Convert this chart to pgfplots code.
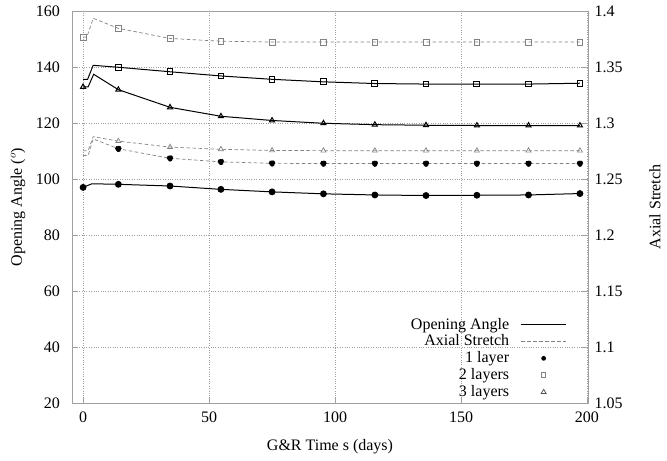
\documentclass[border=0pt]{standalone}
\usepackage{fontspec}
\setmainfont{Liberation Serif}
\usepackage{pgfplots}
\pgfplotsset{compat=1.18}
\definecolor{dgray}{RGB}{130,130,130}
\definecolor{frame}{RGB}{160,160,160}

\begin{document}
\fontsize{16bp}{18bp}\selectfont
\begin{tikzpicture}
\path[use as bounding box] (-72bp,-58bp) rectangle (595bp,403bp);
\pgfplotsset{
  every axis/.append style={
    scale only axis, width=516bp, height=392bp,
    xmin=-4.4, xmax=200.4,
    /pgf/number format/assume math mode=true,
    axis line style={frame, line width=0.8bp},
    tick style={frame, line width=0.6bp},
    major tick length=6bp,
    tick label style={font=\fontsize{16bp}{18bp}\selectfont},
    label style={font=\fontsize{16bp}{18bp}\selectfont},
  },
  solidl/.style={black, line width=1bp, mark size=2.9bp},
  dashl/.style={dgray, line width=0.7bp, dash pattern=on 3.5bp off 2.5bp, mark size=2.9bp, mark options={solid}},
}
% left axis: opening angle
\begin{axis}[
  ymin=20, ymax=160,
  ytick={20,40,...,160},
  xtick={0,50,100,150,200},
  ytick pos=left, xtick pos=bottom,
  grid=major, grid style={dotted, frame, line width=0.5bp},
  xlabel={G\&R Time s (days)},
  ylabel={Opening Angle ($^{o}$)},
  xlabel style={at={(axis description cs:0.5,-0.112)}, anchor=center},
  ylabel style={at={(axis description cs:-0.1047,0.5)}, anchor=center},
  yticklabel style={xshift=-6.5bp},
  xticklabel style={yshift=-3bp},
]
% 1 layer
\addplot[solidl, mark=*, mark options={fill=black}, mark indices={1,3,4,5,6,7,8,9,10,11,12}] coordinates {
  (0,97.0) (3.5,98.3) (14,98.1) (34.5,97.5) (54.7,96.3) (75,95.4)
  (95.4,94.7) (115.8,94.3) (136.1,94.1) (156.3,94.2) (176.8,94.3) (197.2,94.8)
};
% 2 layers
\addplot[solidl, mark=square, mark indices={4,5,6,7,8,9,10,11,12,13}] coordinates {
  (0,135.6) (1.8,135.6) (4,140.6) (14,139.9) (34.5,138.3) (54.7,136.8) (75,135.6)
  (95.4,134.7) (115.8,134.1) (136.1,133.9) (156.3,133.9) (176.8,133.9) (197.2,134.2)
};
% 3 layers
\addplot[solidl, mark=triangle, mark options={fill=gray!25}, mark indices={1,4,5,6,7,8,9,10,11,12,13}] coordinates {
  (0,132.9) (2,132.9) (4.2,137.4) (14,131.9) (34.5,125.6) (54.7,122.4) (75,120.9)
  (95.4,119.9) (115.8,119.4) (136.1,119.2) (156.3,119.1) (176.8,119.1) (197.2,119.1)
};
\end{axis}
% right axis: axial stretch
\begin{axis}[
  ymin=1.05, ymax=1.4,
  ytick={1.05,1.1,1.15,1.2,1.25,1.3,1.35,1.4},
  yticklabels={1.05,1.1,1.15,1.2,1.25,1.3,1.35,1.4},
  axis y line*=right, axis x line=none,
  yticklabel style={xshift=1bp},
  ylabel={Axial Stretch},
  ylabel style={at={(axis description cs:1.1298,0.5)}, anchor=center},
  legend style={at={(rel axis cs:0.959,0.006)}, anchor=south east, draw=none, fill=none,
    font=\fontsize{16bp}{18bp}\selectfont, row sep=-0.8bp, inner sep=0pt},
  legend cell align=right, legend plot pos=right,
]
% 1 layer
\addplot[dashl, forget plot, mark=*, mark options={fill=black, draw=black}, mark indices={4,5,6,7,8,9,10,11,12,13}] coordinates {
  (0,1.2710) (2,1.2710) (4,1.2858) (14,1.2770) (34.5,1.2685) (54.7,1.2653) (75,1.2640)
  (95.4,1.2638) (115.8,1.2638) (136.1,1.2638) (156.3,1.2638) (176.8,1.2638) (197.2,1.2638)
};
% 2 layers
\addplot[dashl, forget plot, mark=square, mark indices={1,4,5,6,7,8,9,10,11,12,13}] coordinates {
  (0,1.3768) (1.5,1.3768) (4,1.3935) (14,1.3845) (34.5,1.3755) (54.7,1.3730) (75,1.3723)
  (95.4,1.3723) (115.8,1.3723) (136.1,1.3723) (156.3,1.3723) (176.8,1.3723) (197.2,1.3723)
};
% 3 layers
\addplot[dashl, forget plot, mark=triangle, mark indices={4,5,6,7,8,9,10,11,12,13}] coordinates {
  (0,1.2753) (2,1.2753) (4,1.2878) (14,1.2838) (34.5,1.2785) (54.7,1.2765) (75,1.2755)
  (95.4,1.2753) (115.8,1.2753) (136.1,1.2753) (156.3,1.2753) (176.8,1.2753) (197.2,1.2753)
};
\addlegendimage{legend image code/.code={\path[draw=none] (0bp,0bp) -- (10bp,0bp); \draw[black, line width=1bp] (10bp,0bp) -- (55bp,0bp);}}
\addlegendentry{Opening Angle}
\addlegendimage{legend image code/.code={\path[draw=none] (0bp,0bp) -- (10bp,0bp); \draw[dgray, line width=0.7bp, dash pattern=on 3.5bp off 2.5bp] (10bp,0bp) -- (55bp,0bp);}}
\addlegendentry{Axial Stretch}
\addlegendimage{legend image code/.code={\path[draw=none] (0bp,0bp) -- (55bp,0bp); \fill[black, draw=none] (32.5bp,0bp) circle (2.4bp);}}
\addlegendentry{1 layer}
\addlegendimage{legend image code/.code={\path[draw=none] (0bp,0bp) -- (55bp,0bp); \draw[dgray, line width=0.7bp] (30.3bp,-2.2bp) rectangle (34.7bp,2.2bp);}}
\addlegendentry{2 layers}
\addlegendimage{legend image code/.code={\path[draw=none] (0bp,0bp) -- (55bp,0bp); \draw[black!70, line width=0.7bp] (30bp,-1.8bp) -- (35bp,-1.8bp) -- (32.5bp,2.4bp) -- cycle;}}
\addlegendentry{3 layers}
\end{axis}
\end{tikzpicture}
\end{document}
